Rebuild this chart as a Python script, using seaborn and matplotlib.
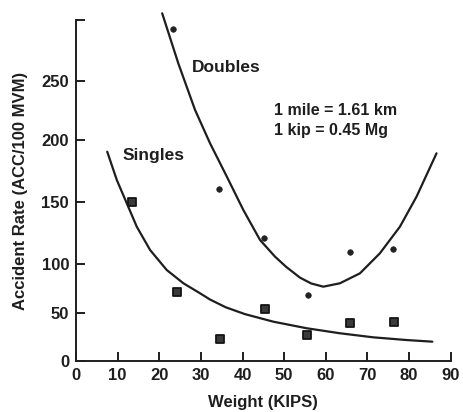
import numpy as np
import pandas as pd
import matplotlib
matplotlib.use("Agg")
import matplotlib.pyplot as plt
import seaborn as sns

# ---- data ----
doubles_x = [23.4, 34.3, 45.1, 55.7, 65.8, 76.1]
doubles_y = [292.6, 160.5, 121.0, 68.5, 109.6, 112.3]
singles_x = [13.4, 24.2, 34.7, 45.5, 55.6, 65.8, 76.3]
singles_y = [150.0, 71.3, 22.5, 53.5, 26.9, 39.0, 40.7]

doubles_curve_x = [20.7, 24.6, 28.6, 32.2, 36.2, 40.2, 44.2, 47.8, 50.5, 53.8, 56.5,
                   59.4, 63.4, 68.2, 73.0, 77.8, 81.8, 86.6]
doubles_curve_y = [305.5, 264.0, 225.3, 197.3, 170.5, 143.3, 119.3, 105.9, 97.0, 86.0,
                   80.0, 76.7, 80.2, 90.4, 108.6, 129.9, 154.1, 189.2]
singles_curve_x = [7.5, 9.8, 12.2, 14.6, 17.8, 21.8, 25.8, 29.8, 32.2, 36.0, 40.6,
                   47.4, 55.4, 63.4, 71.4, 79.4, 85.6]
singles_curve_y = [190.5, 167.6, 148.7, 129.9, 111.2, 93.8, 80.2, 69.9, 63.5, 55.5, 48.5,
                   40.7, 33.9, 28.7, 24.5, 21.7, 20.0]

x_ticks = [0, 10, 20, 30, 40, 50, 60, 70, 80, 90]
y_ticks = [0, 50, 100, 150, 200, 250, 300]
y_tick_labels = ["0", "50", "100", "150", "200", "250", ""]

# uneven vertical scale of the printed (scanned) chart
scale_vals = np.array([-50, 0, 50, 100, 150, 200, 250, 300, 400])
scale_pos = np.array([-48.3, 0, 48.3, 97, 159.3, 221, 280.3, 341, 462.4])

def fwd(v):
    return np.interp(v, scale_vals, scale_pos)

def inv(p):
    return np.interp(p, scale_pos, scale_vals)

sns.set_style("ticks")
plt.rcParams["font.family"] = ["Liberation Sans", "DejaVu Sans"]
plt.rcParams["font.weight"] = "bold"
INK = "#1e1e1e"

fig = plt.figure(figsize=(4.64, 4.12), dpi=100)
ax = fig.add_axes([0.1638, 0.1238, 0.9713 - 0.1638, 0.9515 - 0.1238])
ax.set_yscale("function", functions=(fwd, inv))

dcurve = pd.DataFrame({"x": doubles_curve_x, "y": doubles_curve_y})
scurve = pd.DataFrame({"x": singles_curve_x, "y": singles_curve_y})
sns.lineplot(data=dcurve, x="x", y="y", ax=ax, color=INK, lw=1.6, sort=False,
             estimator=None, clip_on=False)
sns.lineplot(data=scurve, x="x", y="y", ax=ax, color=INK, lw=1.6, sort=False,
             estimator=None, clip_on=False)

sns.scatterplot(x=doubles_x, y=doubles_y, ax=ax, marker="o", s=16, color="#222222",
                edgecolor="#222222", linewidth=0.5, zorder=5)
sns.scatterplot(x=singles_x, y=singles_y, ax=ax, marker="s", s=32, color="#3a3a3a",
                edgecolor="#151515", linewidth=1.3, zorder=5)

ax.set_xlim(0, 90)
ax.set_ylim(0, 300)
ax.set_xticks(x_ticks)
ax.set_xticklabels([str(t) for t in x_ticks])
ax.set_yticks(y_ticks)
ax.set_yticklabels(y_tick_labels)
ax.tick_params(direction="in", length=6.5, width=1.4, color=INK, labelsize=12,
               labelcolor=INK, pad=5)
for lab in ax.get_xticklabels() + ax.get_yticklabels():
    lab.set_fontweight("bold")

for side in ["top", "right"]:
    ax.spines[side].set_visible(False)
for side in ["left", "bottom"]:
    ax.spines[side].set_linewidth(1.4)
    ax.spines[side].set_color(INK)

ax.set_xlabel("Weight (KIPS)", fontsize=12, fontweight="bold", color=INK, labelpad=9)
ax.set_ylabel("Accident Rate (ACC/100 MVM)", fontsize=12, fontweight="bold", color=INK,
              labelpad=10)

ax.text(27.8, 260.5, "Doubles", fontsize=12.5, fontweight="bold", color=INK,
        va="center", ha="left")
ax.text(11.3, 187.4, "Singles", fontsize=12.5, fontweight="bold", color=INK,
        va="center", ha="left")
ax.text(47.5, 225, "1 mile = 1.61 km", fontsize=11.5, fontweight="bold", color=INK,
        va="center", ha="left")
ax.text(47.5, 207.6, "1 kip = 0.45 Mg", fontsize=11.5, fontweight="bold", color=INK,
        va="center", ha="left")

fig.savefig("out.png", dpi=100)
